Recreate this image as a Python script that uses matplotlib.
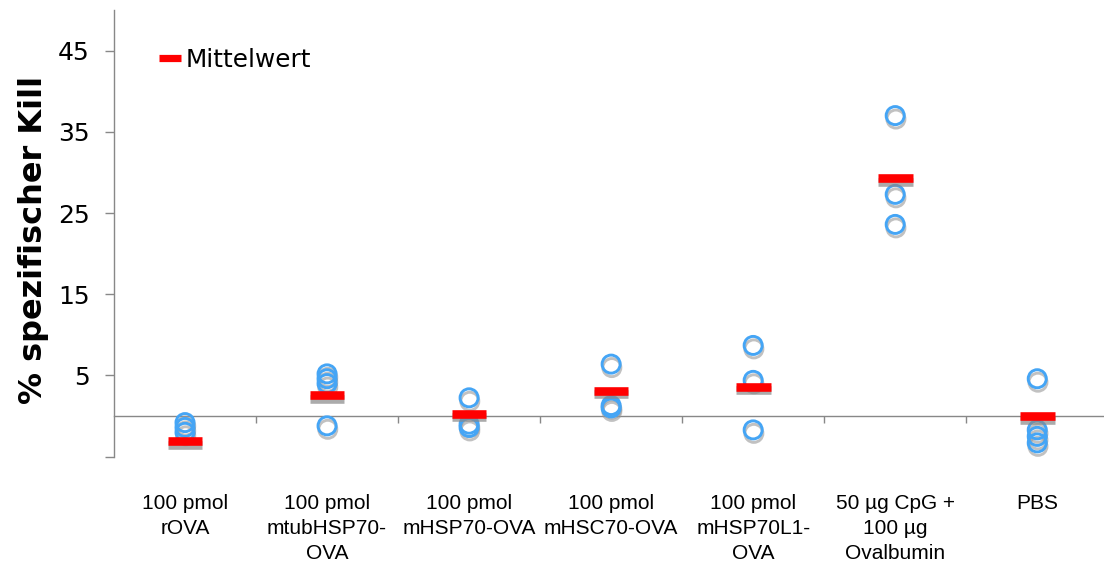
import numpy as np
import matplotlib
matplotlib.use("Agg")
import matplotlib.pyplot as plt
import matplotlib.patheffects as pe
from matplotlib.lines import Line2D

# groups on the x axis
categories = [
    "100 pmol\nrOVA",
    "100 pmol\nmtubHSP70-\nOVA",
    "100 pmol\nmHSP70-OVA",
    "100 pmol\nmHSC70-OVA",
    "100 pmol\nmHSP70L1-\nOVA",
    "50 µg CpG +\n100 µg\nOvalbumin",
    "PBS",
]

# % specific kill of the single animals, one list per group
kill_rova = [-0.8, -1.4, -2.0]
kill_mtub = [5.2, 4.6, 4.0, -1.2]
kill_mhsp70 = [2.25, -1.0, -1.4]
kill_mhsc70 = [6.4, 1.3, 1.0]
kill_mhsp70l1 = [8.7, 4.4, -1.7]
kill_cpg = [37.0, 27.3, 23.6]
kill_pbs = [4.6, -1.7, -2.5, -3.3]

kill_groups = [kill_rova, kill_mtub, kill_mhsp70, kill_mhsc70,
               kill_mhsp70l1, kill_cpg, kill_pbs]

# group means (red bars)
means = [-3.1, 2.55, 0.3, 3.1, 3.6, 29.3, 0.0]

yticks = [-5, 5, 15, 25, 35, 45]
yticklabels = ["", "5", "15", "25", "35", "45"]

fig = plt.figure(figsize=(11.04, 5.65), dpi=100)
ax = fig.add_axes([114 / 1104, 1 - 456.7 / 565, 1 - 114 / 1104, (456.7 - 10) / 565])

shadow_circle = [pe.SimpleLineShadow(offset=(0.5, -2.5), shadow_color="#999999", alpha=0.6),
                 pe.Normal()]
shadow_bar = [pe.SimpleLineShadow(offset=(0, -2.5), shadow_color="#888888", alpha=0.7),
              pe.Normal()]

for i, vals in enumerate(kill_groups):
    ax.plot([i] * len(vals), vals, ls="none", marker="o", ms=13, mew=2.1,
            mfc="none", mec="#45a5f5", path_effects=shadow_circle, zorder=3)

ax.plot(range(len(means)), means, ls="none", marker="_", ms=25,
        mew=6.2, color="#ff0000", path_effects=shadow_bar, zorder=4)

ax.set_xlim(-0.5, 6.47)
ax.set_ylim(-5, 50)

for side in ["top", "right"]:
    ax.spines[side].set_visible(False)
ax.spines["left"].set_color("#888888")
ax.spines["left"].set_linewidth(1.0)
ax.spines["bottom"].set_position(("data", 0))
ax.spines["bottom"].set_color("#888888")
ax.spines["bottom"].set_linewidth(1.0)

ax.set_yticks(yticks)
ax.set_yticklabels(yticklabels, fontsize=18, family="DejaVu Sans")
ax.tick_params(axis="y", direction="out", length=6.5, width=1, color="#888888", pad=11)

ax.set_xticks(np.arange(len(categories)))
ax.set_xticklabels(categories, fontsize=15, family="Liberation Sans",
                   linespacing=1.4, va="top")
ax.set_xticks(np.arange(0.5, len(categories) - 1), minor=True)
ax.tick_params(axis="x", which="major", length=0, pad=56)
ax.tick_params(axis="x", which="minor", direction="out", length=5, width=1, color="#888888")

ax.set_ylabel("% spezifischer Kill", fontsize=23, fontweight="bold", family="DejaVu Sans")
ax.yaxis.set_label_coords(-0.066, 0.485)

# legend entry for the mean bars, drawn without the shadow
mean_handle = Line2D([], [], ls="none", marker="_", ms=16, mew=5.2, color="#ff0000")
ax.legend(handles=[mean_handle], labels=["Mittelwert"], loc="center left",
          bbox_to_anchor=(0.035, 0.888), frameon=False, fontsize=17.8,
          handlelength=0.9, handletextpad=0.2, borderaxespad=0)

fig.savefig("out.png", dpi=100)
